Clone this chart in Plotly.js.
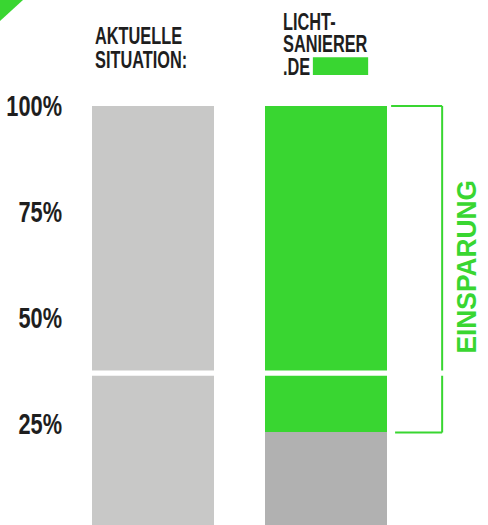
<!DOCTYPE html>
<html>
<head>
<meta charset="utf-8">
<script src="https://cdn.plot.ly/plotly-3.0.1.min.js"></script>
<style>
html,body{margin:0;padding:0;background:#fff;}
#chart{width:488px;height:525px;}
</style>
</head>
<body>
<div id="chart"></div>
<script>
// ---- data ----
const categories = ['AKTUELLE SITUATION', 'LICHT-SANIERER.DE'];
const headerLines = [['AKTUELLE', 'SITUATION:'], ['LICHT-', 'SANIERER', '.DE']];
const remaining = [100, 23];     // remaining consumption in %
const savings = [0, 77];         // savings in %
const breakValue = 37;           // visual break in the bars (%)
const tickValues = [25, 50, 75, 100];
const tickLabels = ['25%', '50%', '75%', '100%'];
const savingsLabel = 'EINSPARUNG';

// ---- style ----
const GREEN = '#39d631';
const GRAY_LIGHT = '#c8c8c7';
const GRAY_DARK = '#b1b1b1';
const TEXT = '#1e1e1e';
const FONT = '"Liberation Sans", "DejaVu Sans Condensed", sans-serif';
const HEADER_SQUEEZE = 0.68;
const TICK_SQUEEZE = 0.75;
const SAVINGS_SQUEEZE = 0.94;

const traces = [
  {
    type: 'bar', x: categories, y: remaining, width: 0.705,
    marker: {color: [GRAY_LIGHT, GRAY_DARK]}, hoverinfo: 'skip'
  },
  {
    type: 'bar', x: categories, y: savings, width: 0.705,
    marker: {color: GREEN}, hoverinfo: 'skip'
  }
];

const bx = 1.671, bTopX0 = 1.376, bBotX0 = 1.399;
const totalTop = remaining[1] + savings[1];
const lineStyle = {color: GREEN, width: 2};

const headerX = [-0.349, 0.737];
const headerY = [[35.5, 59.5], [21, 44, 66.5]];
const annotations = [];
const squeeze = [];
headerLines.forEach((lines, i) => {
  lines.forEach((t, j) => {
    annotations.push({
      xref: 'x', yref: 'paper', x: headerX[i], y: 1 - headerY[i][j] / 525,
      xanchor: 'left', yanchor: 'middle', align: 'left', text: t, showarrow: false,
      font: {family: FONT, size: 24, color: TEXT, weight: 'bold'}
    });
    squeeze.push(HEADER_SQUEEZE);
  });
});
annotations.push({
  xref: 'paper', yref: 'paper', x: 0.948, y: 1 - 267 / 525, xanchor: 'center', yanchor: 'middle',
  text: savingsLabel, textangle: -90, showarrow: false,
  font: {family: FONT, size: 28, color: GREEN, weight: 'bold'}
});
squeeze.push(SAVINGS_SQUEEZE);

const layout = {
  width: 488, height: 525,
  margin: {l: 66, r: 0, t: 0, b: 0},
  paper_bgcolor: '#fff', plot_bgcolor: '#fff',
  barmode: 'stack', bargap: 0,
  showlegend: false,
  xaxis: {
    type: 'category', range: [-0.503, 1.936],
    showticklabels: false, showgrid: false, zeroline: false, showline: false, fixedrange: true
  },
  yaxis: {
    range: [1.18, 125],
    tickvals: tickValues, ticktext: tickLabels,
    ticks: '', showgrid: false, zeroline: false, showline: false, fixedrange: true,
    ticklabelstandoff: 3,
    tickfont: {family: FONT, size: 29, color: TEXT, weight: 'bold'}
  },
  shapes: [
    {type: 'line', xref: 'x', yref: 'y', x0: bTopX0, x1: bx, y0: totalTop, y1: totalTop, line: lineStyle},
    {type: 'line', xref: 'x', yref: 'y', x0: bx, x1: bx, y0: totalTop, y1: remaining[1], line: lineStyle},
    {type: 'line', xref: 'x', yref: 'y', x0: bBotX0, x1: bx, y0: remaining[1], y1: remaining[1], line: lineStyle},
    {type: 'rect', xref: 'paper', yref: 'paper', x0: 0.585, x1: 0.716, y0: 0.857, y1: 0.891,
      fillcolor: GREEN, line: {width: 0}},
    {type: 'path', xref: 'paper', yref: 'paper',
      path: 'M -0.1564,1 L -0.1019,1 L -0.1564,0.96 Z', fillcolor: GREEN, line: {width: 0}},
    {type: 'rect', xref: 'paper', yref: 'y', x0: 0, x1: 1, y0: breakValue - 0.6, y1: breakValue + 0.6,
      fillcolor: '#ffffff', line: {width: 0}, layer: 'above'}
  ],
  annotations: annotations
};

function condense(el, f) {
  const len = el.getComputedTextLength();
  if (len > 0) {
    el.setAttribute('textLength', (len * f).toFixed(2));
    el.setAttribute('lengthAdjust', 'spacingAndGlyphs');
  }
}

Plotly.newPlot('chart', traces, layout, {displayModeBar: false, staticPlot: true}).then(gd => {
  gd.querySelectorAll('.ytick text').forEach(el => condense(el, TICK_SQUEEZE));
  gd.querySelectorAll('g.annotation').forEach(g => {
    const idx = +g.getAttribute('data-index');
    const t = g.querySelector('text.annotation-text');
    if (t) condense(t, squeeze[idx]);
  });
});
</script>
</body>
</html>
